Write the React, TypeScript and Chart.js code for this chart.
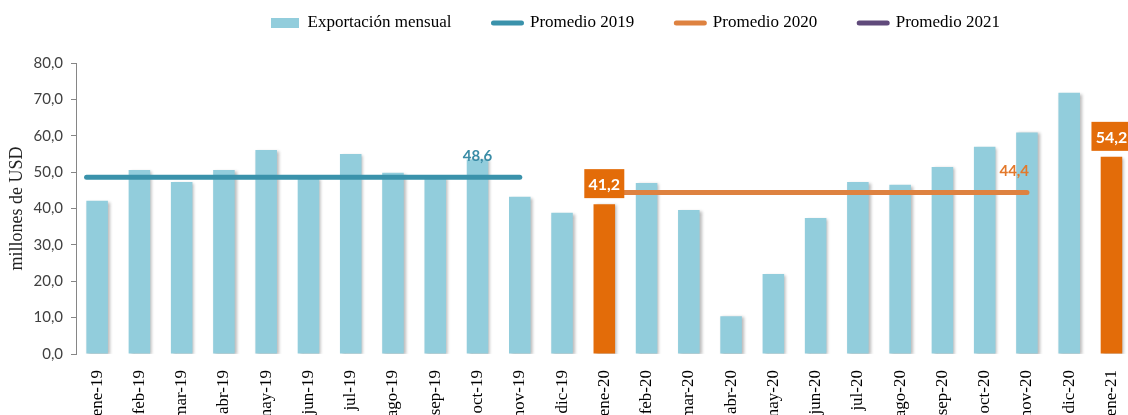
import React, { useEffect, useRef } from "react";
import { Chart, registerables } from "chart.js";

Chart.register(...registerables);

const categories = [
  "ene-19", "feb-19", "mar-19", "abr-19", "may-19", "jun-19", "jul-19", "ago-19", "sep-19", "oct-19", "nov-19", "dic-19",
  "ene-20", "feb-20", "mar-20", "abr-20", "may-20", "jun-20", "jul-20", "ago-20", "sep-20", "oct-20", "nov-20", "dic-20",
  "ene-21",
];
const monthlyExports = [
  42.1, 50.6, 47.3, 50.6, 56.1, 48.5, 55.0, 49.8, 48.7, 53.5, 43.2, 38.8,
  41.2, 47.0, 39.6, 10.4, 22.0, 37.4, 47.3, 46.5, 51.4, 57.0, 60.9, 71.8,
  54.2,
];
const highlightIndices = [12, 24];
const seriesNames = ["Exportación mensual", "Promedio 2019", "Promedio 2020", "Promedio 2021"];
const avgValues = [48.6, 44.4, 54.2];
const avgStarts = [-0.25, 11.7, 24];
const avgEnds = [10, 22, 24];
const avgLabelAt = [9, 21.7];
const yAxisTitle = "millones de USD";
const yMin = 0;
const yMax = 80;
const yStep = 10;

const BLUE = "#92CDDC";
const ORANGE = "#E36C09";
const TEAL = "#3A92AB";
const ORANGE_LINE = "#DE8240";
const PURPLE = "#604A7B";
const AVG_COLORS = [TEAL, ORANGE_LINE, PURPLE];
const AVG_LABEL_COLORS = ["#3A8CA6", "#E3792B"];

const fmt = (v: number) => v.toFixed(1).replace(".", ",");

const LEGEND_PAD = 42;
const LEGEND_FONT = 17;

const legendShift = {
  id: "legendShift",
  afterLayout(chart: any) {
    const lg = chart.legend;
    if (!lg || !lg.lineWidths) return;
    const start = (lg.left + LEGEND_PAD + lg.right - lg.lineWidths[0]) / 2;
    const dx = 271 - start;
    lg.left += dx;
    lg.right += dx;
    const cy = lg.top + LEGEND_PAD + LEGEND_FONT / 2;
    const dy = 23 - cy;
    lg.top += dy;
    lg.bottom = Math.max(lg.bottom + dy, 55);
    lg.height = lg.bottom - lg.top;
  },
};

const barShadow = {
  id: "barShadow",
  beforeDatasetDraw(chart: any, args: any) {
    if (args.index !== 0) return;
    const ctx = chart.ctx;
    ctx.save();
    ctx.shadowColor = "rgba(0,0,0,0.28)";
    ctx.shadowBlur = 3;
    ctx.shadowOffsetX = 2;
    ctx.shadowOffsetY = 1;
  },
  afterDatasetDraw(chart: any, args: any) {
    if (args.index !== 0) return;
    chart.ctx.restore();
  },
};

const valueLabels = {
  id: "valueLabels",
  afterDatasetsDraw(chart: any) {
    const ctx = chart.ctx;
    const xs = chart.scales.x;
    const xl = chart.scales.xl;
    const ys = chart.scales.y;
    ctx.save();
    ctx.font = "bold 15px Lato";
    ctx.textAlign = "center";
    ctx.textBaseline = "alphabetic";
    avgLabelAt.forEach((at, i) => {
      ctx.fillStyle = AVG_LABEL_COLORS[i];
      ctx.fillText(fmt(avgValues[i]), xl.getPixelForValue(at), ys.getPixelForValue(avgValues[i]) - 16);
    });
    ctx.font = "bold 16px Lato";
    highlightIndices.forEach((i) => {
      const v = monthlyExports[i];
      const cx = xs.getPixelForValue(i);
      const top = ys.getPixelForValue(v);
      const h = 29;
      const w = 40;
      ctx.fillStyle = ORANGE;
      ctx.fillRect(cx - w / 2, top - 6 - h, w, h);
      ctx.fillStyle = "#ffffff";
      ctx.textBaseline = "middle";
      ctx.fillText(fmt(v), cx, top - 6 - h / 2 + 1);
    });
    ctx.restore();
  },
};

export default function App() {
  const ref = useRef<HTMLCanvasElement>(null);

  useEffect(() => {
    const canvas = ref.current;
    if (!canvas) return;
    const lineDatasets = avgValues.map((v, i) => ({
      type: "line" as const,
      label: seriesNames[i + 1],
      data:
        avgStarts[i] === avgEnds[i]
          ? [{ x: avgStarts[i], y: v }]
          : [
              { x: avgStarts[i], y: v },
              { x: avgEnds[i], y: v },
            ],
      xAxisID: "xl",
      yAxisID: "y",
      borderColor: AVG_COLORS[i],
      backgroundColor: AVG_COLORS[i],
      borderWidth: 5,
      borderCapStyle: "round" as const,
      showLine: avgStarts[i] !== avgEnds[i],
      pointRadius: 0,
      order: 1,
    }));

    const chart = new Chart(canvas, {
      type: "bar",
      data: {
        labels: categories,
        datasets: [
          {
            type: "bar",
            label: seriesNames[0],
            data: monthlyExports,
            backgroundColor: monthlyExports.map((_, i) => (highlightIndices.includes(i) ? ORANGE : BLUE)),
            barPercentage: 0.51,
            categoryPercentage: 1,
            grouped: false,
            xAxisID: "x",
            yAxisID: "y",
            order: 2,
          } as any,
          ...(lineDatasets as any[]),
        ],
      },
      options: {
        responsive: false,
        animation: false,
        layout: { padding: { top: 33, right: 7, left: 0, bottom: 0 } },
        plugins: {
          tooltip: { enabled: false },
          legend: {
            position: "top",
            align: "center",
            maxHeight: 30,
            labels: {
              usePointStyle: true,
              pointStyleWidth: 28,
              boxHeight: 10,
              padding: LEGEND_PAD,
              color: "#000",
              font: { family: "'Liberation Serif'", size: LEGEND_FONT },
              generateLabels: () =>
                seriesNames.map((name, i) =>
                  i === 0
                    ? { text: name, fillStyle: BLUE, strokeStyle: BLUE, lineWidth: 0, pointStyle: "rect", hidden: false, datasetIndex: 0 }
                    : {
                        text: name,
                        fillStyle: AVG_COLORS[i - 1],
                        strokeStyle: AVG_COLORS[i - 1],
                        lineWidth: 5,
                        lineCap: "round",
                        pointStyle: "line",
                        hidden: false,
                        datasetIndex: i,
                      }
                ) as any,
            },
          } as any,
        },
        scales: {
          x: {
            type: "category",
            offset: true,
            grid: { display: false },
            border: { display: false },
            ticks: {
              autoSkip: false,
              maxRotation: 90,
              minRotation: 90,
              padding: 8,
              color: "#000",
              font: { family: "'Liberation Serif'", size: 17 },
            },
            afterFit: (s: any) => {
              s.height = 86;
            },
          },
          xl: {
            type: "linear",
            axis: "x",
            display: false,
            offset: false,
            grid: { offset: false },
            min: -0.5,
            max: 24.5,
          } as any,
          y: {
            min: yMin,
            max: yMax,
            ticks: {
              stepSize: yStep,
              padding: 8,
              color: "#404040",
              font: { family: "Lato", size: 15 },
              callback: (v: any) => fmt(Number(v)),
            },
            grid: { drawOnChartArea: false, tickLength: 5, color: "#868686" },
            border: { display: true, color: "#868686", width: 1 },
            title: {
              display: true,
              text: yAxisTitle,
              color: "#222",
              font: { family: "'Liberation Serif'", size: 18 },
              padding: { top: 6, bottom: 0 },
            },
            afterFit: (s: any) => {
              s.width = 76;
            },
          },
        },
      },
      plugins: [legendShift, barShadow, valueLabels],
    });
    return () => chart.destroy();
  }, []);

  return (
    <div style={{ position: "fixed", left: 0, top: 0, width: 1128, height: 415, overflow: "hidden", background: "#fff" }}>
      <canvas ref={ref} width={1140} height={440} style={{ display: "block", width: 1140, height: 440 }} />
    </div>
  );
}
